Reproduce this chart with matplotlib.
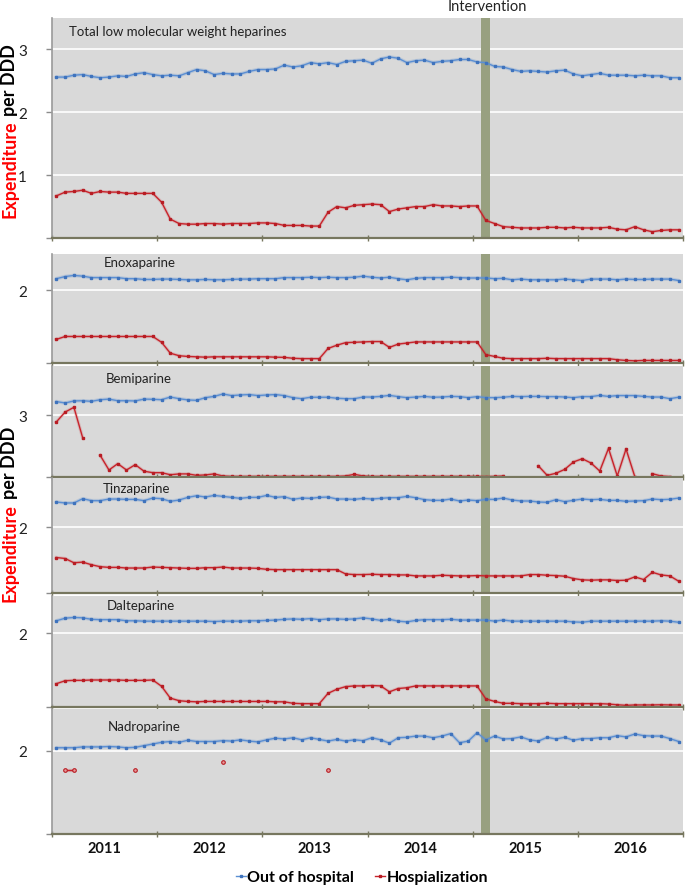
import numpy as np
import matplotlib
matplotlib.use("Agg")
import matplotlib.pyplot as plt
from matplotlib.lines import Line2D

nan = float("nan")

years = ["2011", "2012", "2013", "2014", "2015", "2016"]
intervention_month = 49  # Feb 2015 (0 = Jan 2011)

titles = ["Total low molecular weight heparines", "Enoxaparine", "Bemiparine",
          "Tinzaparine", "Dalteparine", "Nadroparine"]

total_out = [2.56, 2.56, 2.59, 2.60, 2.57, 2.55, 2.56, 2.58, 2.57, 2.61, 2.63, 2.60,
             2.58, 2.59, 2.58, 2.63, 2.68, 2.66, 2.60, 2.62, 2.61, 2.61, 2.65, 2.68,
             2.68, 2.69, 2.75, 2.72, 2.74, 2.79, 2.77, 2.79, 2.76, 2.81, 2.82, 2.83,
             2.78, 2.85, 2.88, 2.86, 2.79, 2.82, 2.83, 2.79, 2.81, 2.82, 2.84, 2.84,
             2.80, 2.79, 2.73, 2.72, 2.68, 2.65, 2.66, 2.65, 2.64, 2.66, 2.67, 2.61,
             2.58, 2.60, 2.62, 2.59, 2.59, 2.59, 2.58, 2.59, 2.58, 2.58, 2.55, 2.55]
total_hosp = [0.67, 0.73, 0.74, 0.76, 0.71, 0.74, 0.73, 0.73, 0.71, 0.71, 0.71, 0.71,
              0.57, 0.30, 0.23, 0.22, 0.22, 0.23, 0.23, 0.22, 0.23, 0.23, 0.23, 0.24,
              0.24, 0.23, 0.20, 0.20, 0.20, 0.19, 0.19, 0.41, 0.50, 0.48, 0.52, 0.53,
              0.54, 0.53, 0.42, 0.46, 0.48, 0.50, 0.50, 0.53, 0.51, 0.51, 0.50, 0.51,
              0.51, 0.28, 0.23, 0.18, 0.17, 0.16, 0.16, 0.16, 0.17, 0.17, 0.16, 0.17,
              0.16, 0.16, 0.16, 0.17, 0.14, 0.13, 0.18, 0.13, 0.10, 0.12, 0.13, 0.13]

enox_out = [2.32, 2.38, 2.41, 2.39, 2.35, 2.35, 2.35, 2.35, 2.32, 2.32, 2.30, 2.30,
            2.31, 2.31, 2.30, 2.29, 2.29, 2.30, 2.29, 2.29, 2.30, 2.31, 2.31, 2.32,
            2.32, 2.32, 2.35, 2.35, 2.35, 2.36, 2.35, 2.36, 2.35, 2.35, 2.36, 2.39,
            2.36, 2.34, 2.36, 2.32, 2.29, 2.33, 2.35, 2.35, 2.35, 2.36, 2.35, 2.34,
            2.34, 2.34, 2.32, 2.33, 2.29, 2.31, 2.29, 2.29, 2.29, 2.29, 2.31, 2.29,
            2.27, 2.31, 2.31, 2.31, 2.29, 2.31, 2.30, 2.30, 2.31, 2.31, 2.31, 2.27]
enox_hosp = [0.65, 0.73, 0.73, 0.73, 0.73, 0.73, 0.73, 0.73, 0.73, 0.73, 0.73, 0.73,
             0.57, 0.27, 0.20, 0.18, 0.17, 0.16, 0.17, 0.17, 0.17, 0.17, 0.17, 0.17,
             0.17, 0.16, 0.155, 0.13, 0.12, 0.12, 0.12, 0.40, 0.49, 0.56, 0.57, 0.58,
             0.59, 0.59, 0.43, 0.52, 0.55, 0.58, 0.58, 0.58, 0.58, 0.58, 0.58, 0.58,
             0.58, 0.23, 0.18, 0.13, 0.12, 0.12, 0.12, 0.12, 0.13, 0.12, 0.12, 0.12,
             0.12, 0.12, 0.12, 0.12, 0.09, 0.07, 0.06, 0.07, 0.07, 0.07, 0.07, 0.07]

bemi_out = [3.67, 3.60, 3.70, 3.71, 3.68, 3.76, 3.79, 3.71, 3.71, 3.70, 3.79, 3.78,
            3.76, 3.89, 3.81, 3.75, 3.73, 3.86, 3.92, 4.04, 3.96, 3.99, 4.01, 3.96,
            3.99, 4.01, 3.96, 3.86, 3.81, 3.88, 3.88, 3.88, 3.83, 3.81, 3.81, 3.89,
            3.89, 3.92, 3.97, 3.91, 3.86, 3.89, 3.92, 3.88, 3.89, 3.92, 3.91, 3.86,
            3.91, 3.86, 3.86, 3.88, 3.92, 3.91, 3.92, 3.92, 3.91, 3.91, 3.89, 3.86,
            3.91, 3.91, 3.97, 3.92, 3.96, 3.96, 3.96, 3.92, 3.89, 3.89, 3.81, 3.88]
bemi_hosp = [2.68, 3.16, 3.39, 1.91, nan, 1.05, 0.34, 0.65, 0.34, 0.60, 0.28, 0.21,
             0.21, 0.11, 0.15, 0.15, 0.08, 0.10, 0.15, 0.05, 0.03, 0.03, 0.03, 0.03,
             0.03, 0.03, 0.03, 0.03, 0.03, 0.03, 0.03, 0.03, 0.03, 0.05, 0.13, 0.05,
             0.03, 0.03, 0.03, 0.03, 0.03, 0.03, 0.03, 0.03, 0.03, 0.03, 0.03, 0.03,
             0.03, 0.02, 0.03, 0.05, nan, nan, nan, 0.54, 0.08, 0.18, 0.37, 0.73,
             0.89, 0.68, 0.29, 1.39, 0.05, 1.36, 0.02, nan, 0.16, 0.05, 0.02, nan]

tinz_out = [2.77, 2.74, 2.74, 2.87, 2.81, 2.81, 2.86, 2.86, 2.85, 2.85, 2.81, 2.89,
            2.87, 2.79, 2.83, 2.91, 2.96, 2.92, 2.97, 2.94, 2.91, 2.88, 2.91, 2.91,
            2.97, 2.91, 2.93, 2.85, 2.89, 2.88, 2.91, 2.92, 2.86, 2.86, 2.85, 2.88,
            2.86, 2.88, 2.90, 2.90, 2.94, 2.90, 2.84, 2.82, 2.82, 2.86, 2.80, 2.83,
            2.81, 2.85, 2.85, 2.89, 2.83, 2.80, 2.80, 2.77, 2.76, 2.84, 2.78, 2.82,
            2.86, 2.84, 2.85, 2.82, 2.82, 2.79, 2.80, 2.81, 2.86, 2.84, 2.85, 2.89]
tinz_hosp = [1.08, 1.05, 0.92, 0.94, 0.86, 0.80, 0.78, 0.78, 0.76, 0.76, 0.76, 0.79,
             0.78, 0.77, 0.76, 0.75, 0.75, 0.77, 0.77, 0.79, 0.76, 0.76, 0.76, 0.75,
             0.72, 0.71, 0.71, 0.71, 0.71, 0.71, 0.71, 0.71, 0.71, 0.58, 0.56, 0.56,
             0.57, 0.56, 0.56, 0.55, 0.55, 0.52, 0.52, 0.52, 0.54, 0.53, 0.52, 0.52,
             0.53, 0.52, 0.52, 0.52, 0.52, 0.52, 0.56, 0.56, 0.54, 0.53, 0.51, 0.44,
             0.40, 0.39, 0.40, 0.40, 0.38, 0.39, 0.49, 0.41, 0.63, 0.55, 0.52, 0.36]

dalt_out = [2.33, 2.40, 2.42, 2.41, 2.37, 2.36, 2.36, 2.36, 2.33, 2.33, 2.32, 2.32,
            2.32, 2.32, 2.32, 2.32, 2.32, 2.32, 2.31, 2.32, 2.32, 2.32, 2.33, 2.33,
            2.34, 2.35, 2.37, 2.38, 2.37, 2.39, 2.36, 2.38, 2.38, 2.37, 2.38, 2.41,
            2.38, 2.34, 2.37, 2.32, 2.30, 2.34, 2.36, 2.36, 2.36, 2.37, 2.35, 2.35,
            2.35, 2.35, 2.32, 2.35, 2.32, 2.32, 2.32, 2.32, 2.32, 2.32, 2.32, 2.30,
            2.29, 2.32, 2.32, 2.32, 2.32, 2.32, 2.32, 2.32, 2.32, 2.33, 2.32, 2.29]
dalt_hosp = [0.63, 0.71, 0.72, 0.72, 0.73, 0.73, 0.73, 0.73, 0.72, 0.72, 0.72, 0.73,
             0.56, 0.24, 0.17, 0.15, 0.14, 0.15, 0.15, 0.15, 0.15, 0.15, 0.15, 0.15,
             0.15, 0.14, 0.14, 0.10, 0.09, 0.09, 0.09, 0.37, 0.48, 0.55, 0.57, 0.57,
             0.58, 0.57, 0.41, 0.50, 0.52, 0.57, 0.57, 0.57, 0.57, 0.57, 0.57, 0.57,
             0.57, 0.22, 0.15, 0.10, 0.10, 0.09, 0.09, 0.09, 0.10, 0.09, 0.09, 0.09,
             0.09, 0.09, 0.09, 0.08, 0.06, 0.045, 0.055, 0.055, 0.055, 0.06, 0.055, 0.055]

nadro_out = [2.07, 2.07, 2.07, 2.09, 2.09, 2.09, 2.10, 2.09, 2.07, 2.08, 2.12, 2.16,
             2.20, 2.22, 2.20, 2.25, 2.22, 2.22, 2.22, 2.24, 2.23, 2.26, 2.23, 2.21,
             2.26, 2.30, 2.28, 2.31, 2.26, 2.31, 2.27, 2.23, 2.27, 2.23, 2.26, 2.24,
             2.31, 2.26, 2.18, 2.31, 2.32, 2.35, 2.35, 2.31, 2.35, 2.41, 2.19, 2.23,
             2.43, 2.26, 2.35, 2.28, 2.29, 2.33, 2.26, 2.23, 2.32, 2.28, 2.32, 2.25,
             2.29, 2.29, 2.31, 2.31, 2.36, 2.33, 2.40, 2.36, 2.35, 2.35, 2.29, 2.22]
nadro_hosp = [nan, 1.54, 1.54, nan, nan, nan, nan, nan, nan, 1.54, nan, nan,
              nan, nan, nan, nan, nan, nan, nan, 1.74, nan, nan, nan, nan,
              nan, nan, nan, nan, nan, nan, nan, 1.54, nan, nan, nan, nan,
              nan, nan, nan, nan, nan, nan, nan, nan, nan, nan, nan, nan,
              nan, nan, nan, nan, nan, nan, nan, nan, nan, nan, nan, nan,
              nan, nan, nan, nan, nan, nan, nan, nan, nan, nan, nan, nan]

out_series = [total_out, enox_out, bemi_out, tinz_out, dalt_out, nadro_out]
hosp_series = [total_hosp, enox_hosp, bemi_hosp, tinz_hosp, dalt_hosp, nadro_hosp]

# layout (pixels)
W, H = 685, 887
X0, X1 = 52, 683
panel_px = [(19, 239), (255, 364), (367, 478), (479, 594), (597, 708), (710, 835)]
ylims = [(0, 3.5), (0, 3.0), (0, 5.4), (0, 3.5), (0, 3.0), (0, 3.0)]
yticks = [[0, 1, 2, 3], [0, 2], [0, 3], [0, 2], [0, 2], [0, 2]]
title_px = [(69, 32), (104, 263), (106, 379), (103, 489), (107, 606), (108, 727)]

plt.rcParams["font.family"] = ["Lato", "DejaVu Sans"]

BG = "#d9d9d9"
BLUE = "#5b8fd3"
BLUE_M = "#3f73bd"
RED = "#c8232b"
RED_M = "#b81d24"
BAND = "#98a080"
AXC = "#77775f"

fig = plt.figure(figsize=(W / 100, H / 100), dpi=100)

x = np.arange(72) + 0.5
for i in range(6):
    top, bot = panel_px[i]
    ax = fig.add_axes([X0 / W, 1 - bot / H, (X1 - X0) / W, (bot - top) / H])
    ax.set_facecolor(BG)
    ax.set_xlim(0, 72)
    ax.set_ylim(*ylims[i])
    ax.axvspan(intervention_month, intervention_month + 1, color=BAND, zorder=1, lw=0)
    for t in yticks[i]:
        if t > 0:
            ax.axhline(t, color="white", lw=1.2, zorder=0.5)
    o = np.array(out_series[i], dtype=float)
    h = np.array(hosp_series[i], dtype=float)
    ax.plot(x, o, color=BLUE, lw=2.6, alpha=0.25, zorder=2, solid_capstyle="round")
    ax.plot(x, o, color=BLUE, lw=1.0, marker="s", ms=1.8, mfc=BLUE_M, mec=BLUE_M, zorder=3)
    ax.plot(x, h, color=RED, lw=2.4, alpha=0.18, zorder=2)
    if i == 5:
        ax.plot(x, h, color=RED, lw=1.0, marker="o", ms=2.6, mfc="#e89a9a", mec=RED_M,
                mew=0.8, zorder=3)
    else:
        ax.plot(x, h, color=RED, lw=1.0, marker="s", ms=1.6, mfc=RED_M, mec=RED_M, zorder=3)
    ax.set_yticks(yticks[i])
    ax.set_yticklabels([("" if t == 0 else str(t)) for t in yticks[i]], fontsize=11, color="#222222")
    ax.set_xticks(np.arange(0, 73, 12))
    ax.set_xticklabels([])
    ax.tick_params(axis="x", direction="inout", length=5, color=AXC, width=1)
    ax.tick_params(axis="y", direction="out", length=4, color="#8c8c8c", width=1, pad=14)
    for s in ["top", "right"]:
        ax.spines[s].set_visible(False)
    ax.spines["left"].set_color("#9a9a9a")
    ax.spines["left"].set_linewidth(1.2)
    ax.spines["bottom"].set_color(AXC)
    ax.spines["bottom"].set_linewidth(1.6)
    ax.spines["bottom"].set_zorder(5)
    tx, ty = title_px[i]
    fig.text(tx / W, 1 - ty / H, titles[i], fontsize=9.5, color="#222222", va="center", ha="left")

# intervention label
fig.text(487 / W, 1 - 7 / H, "Intervention", fontsize=10.5, color="#222222", ha="center", va="center")

# year labels
for k, yr in enumerate(years):
    xc = X0 + (X1 - X0) * (12 * k + 6) / 72
    fig.text(xc / W, 1 - 849 / H, yr, fontsize=10.5, fontweight="bold", ha="center", va="center", color="#111111")

# legend
handles = [Line2D([0], [0], color=BLUE, lw=1, marker="s", ms=2, mfc=BLUE_M, mec=BLUE_M),
           Line2D([0], [0], color=RED, lw=1, marker="s", ms=2, mfc=RED_M, mec=RED_M)]
fig.legend(handles, ["Out of hospital", "Hospialization"], loc="center",
           bbox_to_anchor=(362 / W, 1 - 878 / H), ncol=2, frameon=False,
           handlelength=0.6, handletextpad=0.1, columnspacing=1.3,
           prop={"weight": "bold", "size": 11.5})

# two-coloured y labels
renderer = fig.canvas.get_renderer()


def two_color_label(xc, yc_top_px, target_len):
    fs = 13
    t1 = fig.text(0, 0, "Expenditure", rotation=90, rotation_mode="anchor", fontsize=fs,
                  fontweight="bold", color="#ff0000", ha="left", va="center")
    t2 = fig.text(0, 0, "per DDD", rotation=90, rotation_mode="anchor", fontsize=fs,
                  fontweight="bold", color="black", ha="left", va="center")
    h1 = t1.get_window_extent(renderer).height
    h2 = t2.get_window_extent(renderer).height
    gap = 0.28 * fs * 100 / 72
    scale = target_len / (h1 + h2 + gap)
    fs *= scale
    t1.set_fontsize(fs)
    t2.set_fontsize(fs)
    h1 *= scale
    h2 *= scale
    gap *= scale
    yc = H - yc_top_px
    y0 = yc - (h1 + h2 + gap) / 2
    t1.set_position((xc / W, y0 / H))
    t2.set_position((xc / W, (y0 + h1 + gap) / H))


two_color_label(10, 131, 173)
two_color_label(10, 514, 175)

fig.savefig("out.png", dpi=100, facecolor="white")
